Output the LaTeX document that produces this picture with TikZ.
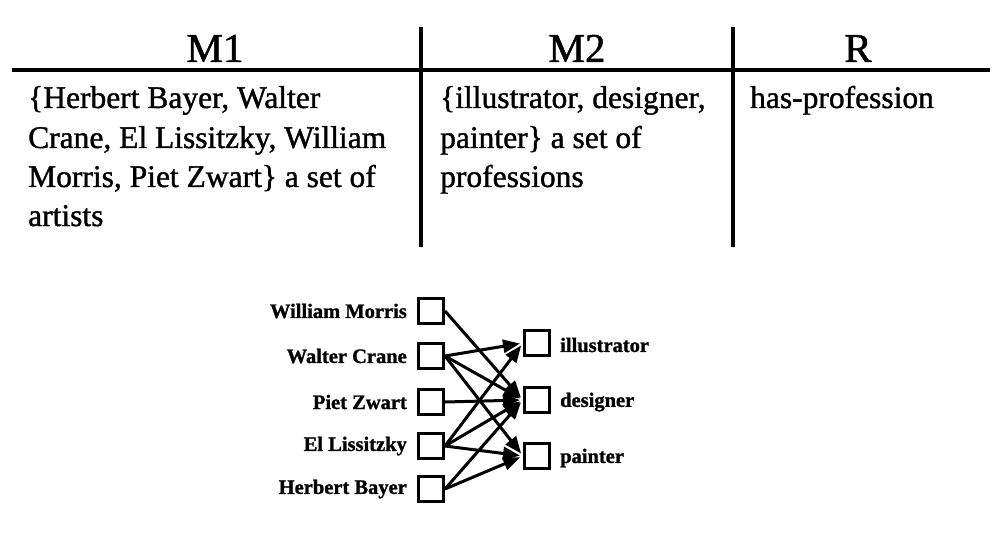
\documentclass[tikz,border=0pt]{standalone}
\usepackage{fontspec}
\setmainfont{Liberation Serif}[FakeBold=1.2]
\usetikzlibrary{arrows.meta}
\begin{document}
\begin{tikzpicture}[x=1pt,y=-1pt,
  rule/.style={line width=4.5pt},
  head/.style={font=\fontsize{41}{41}\selectfont, inner sep=0pt, anchor=base},
  cell/.style={font=\fontsize{31.5}{31.5}\selectfont, inner sep=0pt, anchor=base west},
  box/.style={draw, line width=3pt, minimum width=25pt, minimum height=25pt, inner sep=0pt},
  lab/.style={font=\fontsize{20.5}{20.5}\selectfont\bfseries, inner sep=0pt},
  link/.style={line width=3pt, -{Triangle[length=17pt,width=13pt]}, shorten >=3pt}]
  \useasboundingbox (0,0) rectangle (1001,548);

  % table rules
  \coordinate (hl) at (12,70);
  \coordinate (hr) at (990,70);
  \coordinate (v1t) at (421,27);
  \coordinate (v1b) at (421,247);
  \coordinate (v2t) at (733,27);
  \coordinate (v2b) at (733,247);
  \draw[rule] (hl) -- (hr);
  \draw[rule] (v1t) -- (v1b);
  \draw[rule] (v2t) -- (v2b);

  % column headers
  \node[head] (hM1) at (215,62) {M1};
  \node[head] (hM2) at (577,62) {M2};
  \node[head] (hR)  at (858,62) {R};

  % cells
  \node[cell] (a1) at (28,108) {\{Herbert Bayer, Walter};
  \node[cell] (a2) at (28,148) {Crane, El Lissitzky, William};
  \node[cell] (a3) at (28,187) {Morris, Piet Zwart\} a set of};
  \node[cell] (a4) at (28,226) {artists};
  \node[cell] (b1) at (440,108) {\{illustrator, designer,};
  \node[cell] (b2) at (440,148) {painter\} a set of};
  \node[cell] (b3) at (440,187) {professions};
  \node[cell] (c1) at (750,108) {has-profession};

  % artists
  \node[box] (wm) at (431,311) {};
  \node[box] (wc) at (431,356) {};
  \node[box] (pz) at (431,402) {};
  \node[box] (el) at (431,446) {};
  \node[box] (hb) at (431,489) {};
  \node[lab, anchor=east] (lwm) at (407,311) {William Morris};
  \node[lab, anchor=east] (lwc) at (407,356) {Walter Crane};
  \node[lab, anchor=east] (lpz) at (407,402) {Piet Zwart};
  \node[lab, anchor=east] (lel) at (407,446) {El Lissitzky};
  \node[lab, anchor=east] (lhb) at (407,489) {Herbert Bayer};

  % professions
  \node[box] (il) at (537,343) {};
  \node[box] (de) at (537,400) {};
  \node[box] (pa) at (537,456) {};
  \node[lab, anchor=west] (lil) at (560,345) {illustrator};
  \node[lab, anchor=west] (lde) at (560,402) {designer};
  \node[lab, anchor=west] (lpa) at (560,458) {painter};

  % has-profession
  \draw[link] (wm.east) -- (de.west);
  \draw[link] (wc.east) -- (il.west);
  \draw[link] (wc.east) -- (de.west);
  \draw[link] (wc.east) -- (pa.west);
  \draw[link] (pz.east) -- (de.west);
  \draw[link] (el.east) -- (il.west);
  \draw[link] (el.east) -- (de.west);
  \draw[link] (el.east) -- (pa.west);
  \draw[link] (hb.east) -- (de.west);
  \draw[link] (hb.east) -- (pa.west);
\end{tikzpicture}
\end{document}
